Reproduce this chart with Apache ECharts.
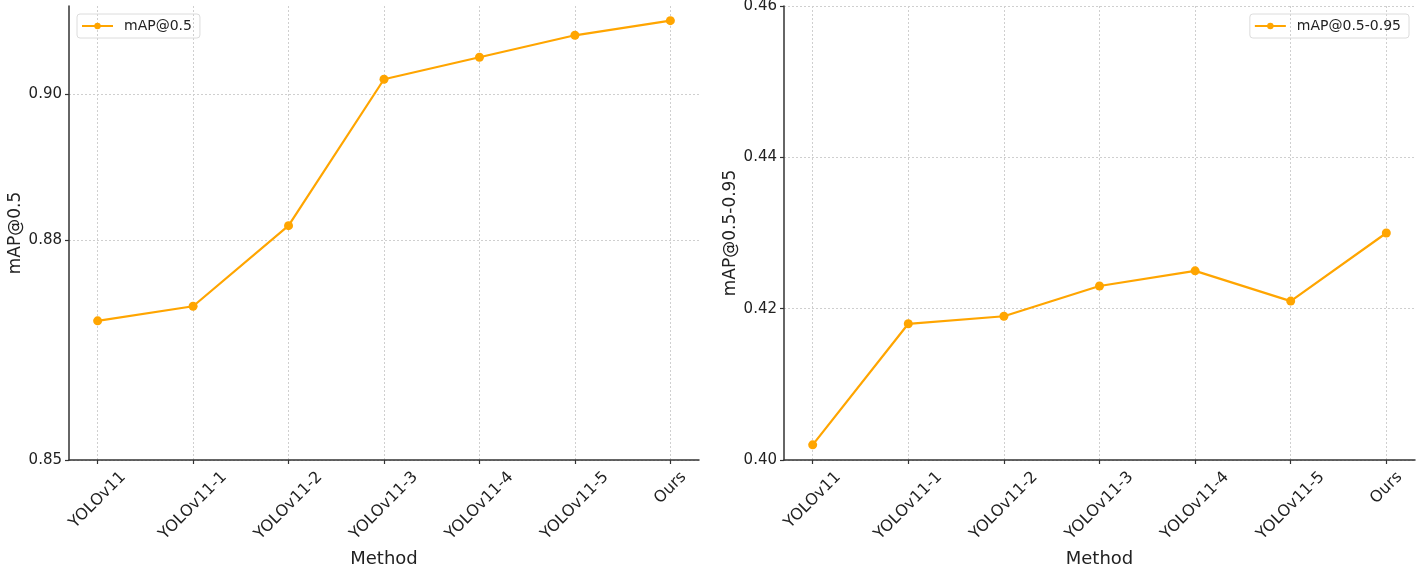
<!DOCTYPE html>
<html><head><meta charset="utf-8">
<script src="https://cdn.jsdelivr.net/npm/echarts@6/dist/echarts.min.js"></script>
<style>html,body{margin:0;padding:0;background:#fff}#c{width:1417px;height:568px}</style>
</head><body><div id="c"></div>
<script>
const categories = ['YOLOv11','YOLOv11-1','YOLOv11-2','YOLOv11-3','YOLOv11-4','YOLOv11-5','Ours'];
const map50 = [0.869, 0.871, 0.882, 0.902, 0.905, 0.908, 0.910];
const map5095 = [0.402, 0.418, 0.419, 0.423, 0.425, 0.421, 0.430];
const leftTicks = [0.85, 0.88, 0.90];
const rightTicks = [0.40, 0.42, 0.44, 0.46];
const catIdx = categories.map((c,i)=>i);

const FONT = 'DejaVu Sans';
const TXT = '#222';
const COLOR = '#FFA500';
const XFS = 16;

// Emulate matplotlib's rotated, center-aligned tick labels (bbox top at fixed offset below axis)
const ctx = document.createElement('canvas').getContext('2d');
ctx.font = XFS + 'px "DejaVu Sans"';
const TOP = 8;
const rich = {};
categories.forEach((c,i)=>{
  const w = ctx.measureText(c).width;
  const hh = XFS * 1.17;
  const bboxH = (w + hh) * Math.SQRT1_2;
  const s = TOP + bboxH/2;
  const p = Math.SQRT2 * s;
  rich['l'+i] = {fontFamily:FONT, fontSize:XFS, color:TXT, padding:[p, p, 0, 0], align:'center', verticalAlign:'middle'};
});

function xAxis(gi){
  return {
    gridIndex: gi, type:'value', min:-0.3, max:6.3,
    name:'Method', nameLocation:'middle', nameGap:90,
    nameTextStyle:{fontFamily:FONT, fontSize:18, color:TXT},
    axisLine:{show:true, onZero:false, lineStyle:{color:'#333', width:1.5}},
    axisTick:{show:true, customValues:catIdx, length:4, lineStyle:{color:'#333', width:1.2}},
    axisLabel:{customValues:catIdx, rotate:45, margin:0, align:'center', verticalAlign:'middle',
      fontFamily:FONT, fontSize:XFS, color:TXT, rich:rich,
      formatter:v=>{const i=Math.round(v); return '{l'+i+'|'+categories[i]+'}';}},
    splitLine:{show:true, lineStyle:{color:'#cfcfcf', type:[2,2], width:1}}
  };
}
function yAxis(gi, name, ticks, min, max){
  return {
    gridIndex: gi, type:'value', min:min, max:max,
    name:name, nameLocation:'middle', nameGap:45, nameRotate:90,
    nameTextStyle:{fontFamily:FONT, fontSize:17, color:TXT},
    axisLine:{show:true, onZero:false, lineStyle:{color:'#333', width:1.5}},
    axisTick:{show:true, customValues:ticks, length:4, lineStyle:{color:'#333', width:1.2}},
    axisLabel:{customValues:ticks, fontFamily:FONT, fontSize:15, color:TXT, margin:7,
      formatter:v=>v.toFixed(2)},
    splitLine:{show:true, lineStyle:{color:'#cfcfcf', type:[2,2], width:1}}
  };
}
function legend(name, pos){
  return Object.assign({data:[name], top:14, orient:'vertical',
     itemWidth:31, itemHeight:8, padding:[5,8,5,4], borderColor:'#dcdcdc', borderWidth:1, borderRadius:3,
     textStyle:{fontFamily:FONT, fontSize:14, color:TXT, padding:[0,0,0,6]}}, pos);
}

const chart = echarts.init(document.getElementById('c'), null, {renderer:'canvas'});
chart.setOption({
  animation:false,
  backgroundColor:'#fff',
  grid:[
    {left:69, right:718, top:6, bottom:108, containLabel:false, outerBoundsMode:'none'},
    {left:784, right:2, top:6, bottom:108, containLabel:false, outerBoundsMode:'none'}
  ],
  xAxis:[xAxis(0), xAxis(1)],
  yAxis:[
    yAxis(0,'mAP@0.5',leftTicks,0.85,0.912),
    yAxis(1,'mAP@0.5-0.95',rightTicks,0.40,0.46)
  ],
  legend:[ legend('mAP@0.5',{left:77}), legend('mAP@0.5-0.95',{right:8}) ],
  series:[
    {name:'mAP@0.5', type:'line', xAxisIndex:0, yAxisIndex:0,
     data:map50.map((v,i)=>[i,v]), symbol:'circle', symbolSize:9,
     lineStyle:{color:COLOR, width:2.2}, itemStyle:{color:COLOR}},
    {name:'mAP@0.5-0.95', type:'line', xAxisIndex:1, yAxisIndex:1,
     data:map5095.map((v,i)=>[i,v]), symbol:'circle', symbolSize:9,
     lineStyle:{color:COLOR, width:2.2}, itemStyle:{color:COLOR}}
  ]
});
</script></body></html>
